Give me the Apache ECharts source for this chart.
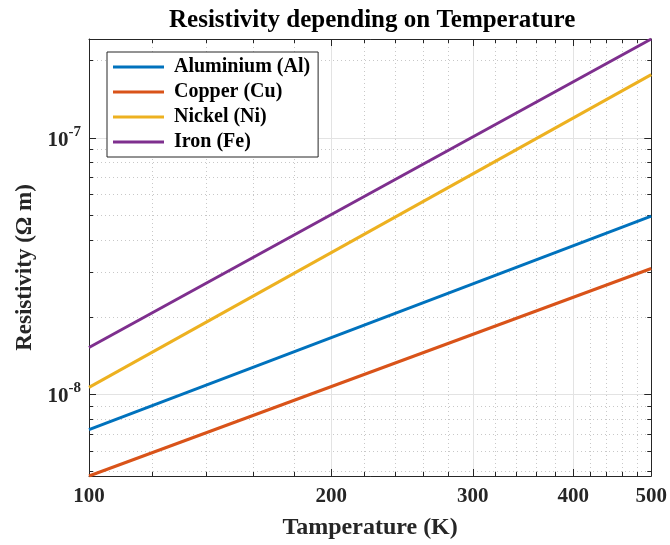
<!DOCTYPE html>
<html>
<head>
<meta charset="utf-8">
<script src="https://cdn.jsdelivr.net/npm/echarts@6/dist/echarts.min.js"></script>
<style>html,body{margin:0;padding:0;background:#fff}#c{width:670px;height:545px}</style>
</head>
<body>
<div id="c"></div>
<script>
// ---- data ----
const temperatures = [100, 500];
const aluminium = [7.26e-9, 4.95e-8];
const copper = [4.79e-9, 3.09e-8];
const nickel = [1.062e-8, 1.765e-7];
const iron = [1.52e-8, 2.43e-7];
const seriesNames = ['Aluminium (Al)', 'Copper (Cu)', 'Nickel (Ni)', 'Iron (Fe)'];
const xMajorTicks = [100, 200, 300, 400, 500];
const xMinorTicks = [120, 140, 160, 180, 220, 240, 260, 280, 320, 340, 360, 380, 420, 440, 460, 480];
const yMajorTicks = [1e-8, 1e-7];
const yMinorTicks = [5e-9, 6e-9, 7e-9, 8e-9, 9e-9, 2e-8, 3e-8, 4e-8, 5e-8, 6e-8, 7e-8, 8e-8, 9e-8, 2e-7];
const xRange = [100, 500];
const yRange = [4.79e-9, 2.43e-7];

const FONT = "'Liberation Serif', 'Times New Roman', serif";
const AX = '#262626';
const colors = ['#0072BD', '#D95319', '#EDB120', '#7E2F8E'];
const seriesValues = [aluminium, copper, nickel, iron];

function pairs(xs, ys) { return xs.map((x, i) => [x, ys[i]]); }

function xAxisDef(pos, ticks, len, opts) {
  return Object.assign({
    type: 'log', logBase: 10, min: xRange[0], max: xRange[1], position: pos,
    axisLine: { show: false, onZero: false },
    axisTick: { show: true, inside: true, length: len, customValues: ticks, lineStyle: { color: AX, width: 1 } },
    axisLabel: { show: false },
    splitLine: { show: false },
    minorTick: { show: false }, minorSplitLine: { show: false }
  }, opts || {});
}
function yAxisDef(pos, ticks, len, opts) {
  return Object.assign({
    type: 'log', logBase: 10, min: yRange[0], max: yRange[1], position: pos,
    axisLine: { show: false, onZero: false },
    axisTick: { show: true, inside: true, length: len, customValues: ticks, lineStyle: { color: AX, width: 1 } },
    axisLabel: { show: false },
    splitLine: { show: false },
    minorTick: { show: false }, minorSplitLine: { show: false }
  }, opts || {});
}

const option = {
  animation: false,
  backgroundColor: '#fff',
  title: {
    text: 'Resistivity depending on Temperature',
    left: 169, top: 8, padding: 0,
    textStyle: { fontFamily: FONT, fontSize: 25, fontWeight: 'bold', color: '#000' }
  },
  legend: {
    orient: 'vertical', left: 107, top: 52,
    padding: [5, 8, 5, 6],
    itemWidth: 51, itemHeight: 3, itemGap: 5,
    icon: 'rect',
    backgroundColor: '#fff', borderColor: AX, borderWidth: 1,
    data: seriesNames,
    textStyle: { fontFamily: FONT, fontSize: 20, fontWeight: 'bold', color: '#000', padding: [0, 0, 0, 5] }
  },
  grid: { left: 89, right: 18, top: 39, bottom: 68, containLabel: false },
  xAxis: [
    xAxisDef('bottom', xMajorTicks, 7, {
      axisLine: { show: true, onZero: false, lineStyle: { color: AX, width: 1 } },
      axisLabel: { show: true, customValues: xMajorTicks, margin: 10, fontFamily: FONT, fontSize: 21, fontWeight: 'bold', color: AX,
        formatter: v => String(Math.round(v)) },
      splitLine: { show: true, lineStyle: { color: '#e3e3e3', width: 1 } },
      name: 'Tamperature (K)', nameLocation: 'middle', nameGap: 40,
      nameTextStyle: { fontFamily: FONT, fontSize: 24, fontWeight: 'bold', color: AX }
    }),
    xAxisDef('bottom', xMinorTicks, 4, { splitLine: { show: true, lineStyle: { color: '#c8c8c8', width: 1, type: [1, 3] } } }),
    xAxisDef('top', xMajorTicks, 7, { axisLine: { show: true, onZero: false, lineStyle: { color: AX, width: 1 } } }),
    xAxisDef('top', xMinorTicks, 4)
  ],
  yAxis: [
    yAxisDef('left', yMajorTicks, 7, {
      axisLine: { show: true, onZero: false, lineStyle: { color: AX, width: 1 } },
      axisLabel: { show: true, customValues: yMajorTicks, margin: 8,
        formatter: v => '{b|10}{s|' + Math.round(Math.log10(v)) + '}',
        rich: {
          b: { fontFamily: FONT, fontSize: 21, fontWeight: 'bold', color: AX, lineHeight: 26, verticalAlign: 'bottom' },
          s: { fontFamily: FONT, fontSize: 15, fontWeight: 'bold', color: AX, lineHeight: 26, verticalAlign: 'top' }
        } },
      splitLine: { show: true, lineStyle: { color: '#e3e3e3', width: 1 } },
      name: 'Resistivity (Ω m)', nameLocation: 'middle', nameGap: 50,
      nameTextStyle: { fontFamily: FONT, fontSize: 23, fontWeight: 'bold', color: AX, padding: [0, 20, 0, 0] }
    }),
    yAxisDef('left', yMinorTicks, 4, { splitLine: { show: true, lineStyle: { color: '#c8c8c8', width: 1, type: [1, 3] } } }),
    yAxisDef('right', yMajorTicks, 7, { axisLine: { show: true, onZero: false, lineStyle: { color: AX, width: 1 } } }),
    yAxisDef('right', yMinorTicks, 4)
  ],
  series: seriesNames.map((name, i) => ({
    name: name, type: 'line', xAxisIndex: 0, yAxisIndex: 0,
    data: pairs(temperatures, seriesValues[i]),
    showSymbol: false, symbol: 'none', clip: true,
    lineStyle: { color: colors[i], width: 3 },
    itemStyle: { color: colors[i] },
    z: 3
  }))
};

const chart = echarts.init(document.getElementById('c'), null, { renderer: 'canvas' });
chart.setOption(option);
</script>
</body>
</html>
